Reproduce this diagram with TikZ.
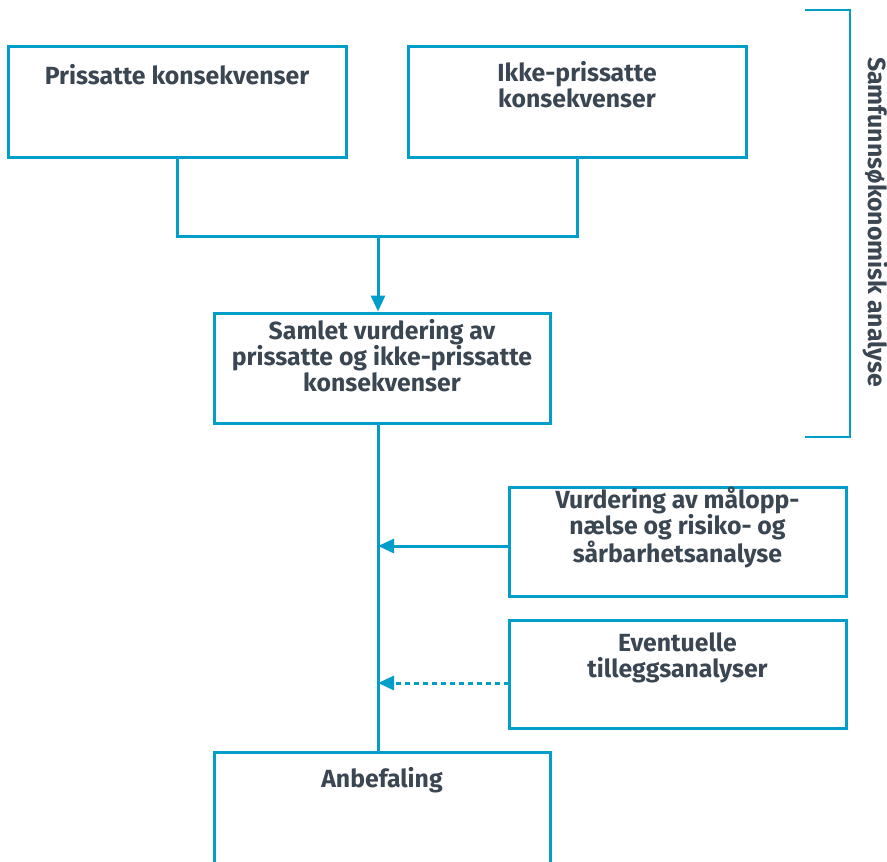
\documentclass[tikz,border=0pt]{standalone}
\usepackage{fontspec}
\setmainfont{Fira Sans}
\usetikzlibrary{arrows.meta}
\definecolor{lineblue}{RGB}{0,158,200}
\definecolor{txtgray}{RGB}{58,70,82}
\begin{document}
\begin{tikzpicture}[x=1pt,y=-1pt,
  box/.style={draw=lineblue,line width=3pt,minimum width=338pt,inner sep=0pt},
  txt/.style={text=txtgray,font=\fontsize{24.8}{26}\selectfont\bfseries,align=center,inner sep=0pt},
  conn/.style={draw=lineblue,line width=3pt},
  arr/.style={conn,-{Triangle[length=16pt,width=14pt]}}]
\useasboundingbox (0,0) rectangle (887,862);
\node[box,minimum height=111pt] (b1) at (177,101.5) {};
\node[box,minimum height=111pt] (b2) at (577,101.5) {};
\node[box,minimum width=336pt,minimum height=110pt] (b3) at (382,368) {};
\node[box,minimum width=337pt,minimum height=109pt] (b4) at (677.5,541.5) {};
\node[box,minimum width=337pt,minimum height=108pt] (b5) at (677.5,674) {};
\node[box,minimum width=336pt,minimum height=114pt] (b6) at (382,809) {};
\node[txt] (t1) at (177,75) {Prissatte konsekvenser};
\node[txt] (t2) at (577,84.5) {Ikke-prissatte\\konsekvenser};
\node[txt] (t3) at (382,356) {Samlet vurdering av\\prissatte og ikke-prissatte\\konsekvenser};
\node[txt] (t4) at (677.5,527.5) {Vurdering av målopp-\\nælse og risiko- og\\sårbarhetsanalyse};
\node[txt] (t5) at (677.5,658) {Eventuelle\\tilleggsanalyser};
\node[txt] (t6) at (382,780) {Anbefaling};
\node[txt,rotate=-90] (t7) at (876,222) {Samfunnsøkonomisk analyse};
\coordinate (j) at (378,236);
\coordinate (m4) at (509,546);
\coordinate (m5) at (509,683);
\draw[conn] (b1.south) -- (b1.south |- j) -- (b2.south |- j) -- (b2.south);
\draw[arr] (j) -- (j |- b3.north);
\draw[conn] (j |- b3.south) -- (j |- b6.north);
\draw[arr] (m4) -- (m4 -| j);
\draw[arr,dash pattern=on 5pt off 4pt] (m5) -- (m5 -| j);
\coordinate (k1) at (805,10);
\coordinate (k2) at (850,437);
\draw[conn,line width=2.6pt] (k1) -- (k1 -| k2) -- (k2) -- (k2 -| k1);
\end{tikzpicture}
\end{document}
